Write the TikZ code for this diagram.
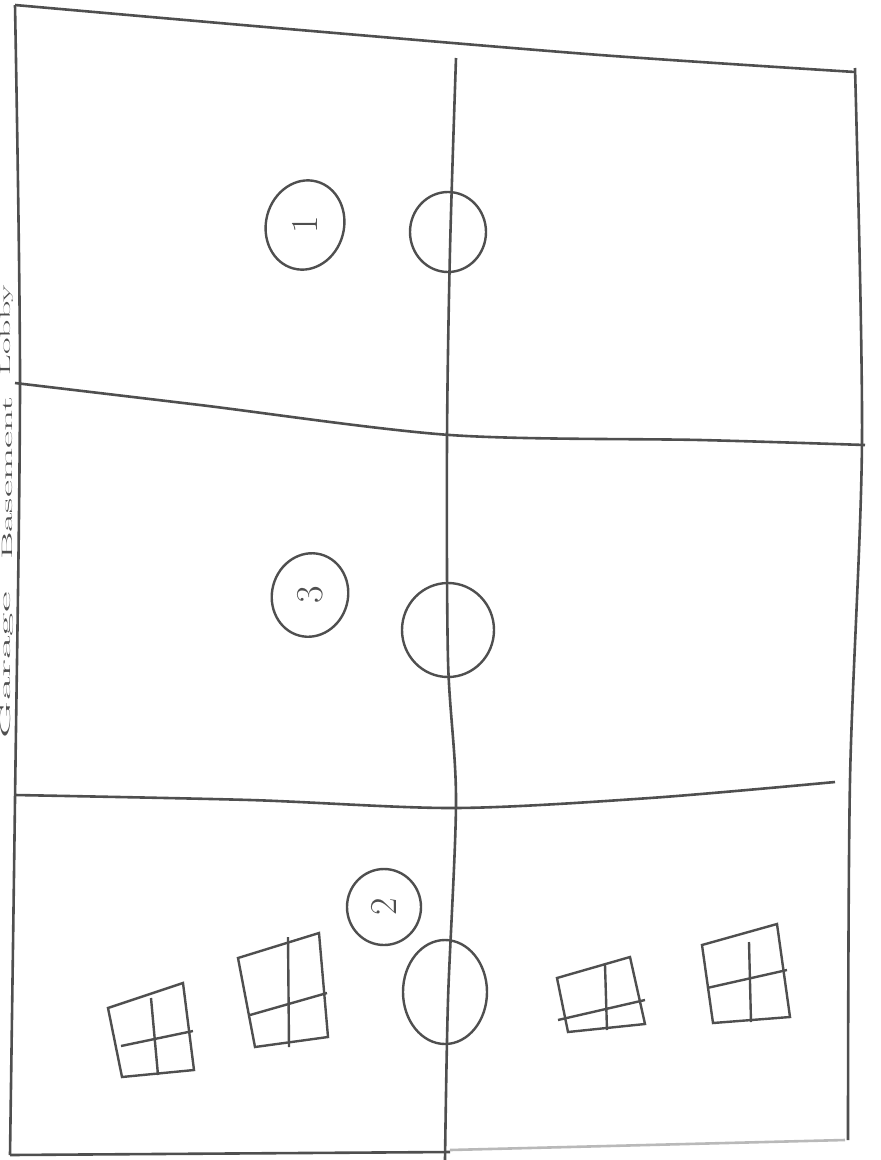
\documentclass[tikz,border=0pt]{standalone}
\usepackage{graphicx}
\usetikzlibrary{shapes.geometric}
\definecolor{pencil}{HTML}{4F4F4F}
\tikzset{
  line cap=round,
  line join=round,
  wall/.style={draw=pencil, line width=2.6pt},
  numring/.style={draw=pencil, line width=2.4pt, ellipse, inner sep=0pt},
  ring/.style={draw=pencil, line width=2.4pt, ellipse, inner sep=0pt},
  numtext/.style={rotate=90, text=pencil, font=\fontsize{38}{40}\selectfont},
  pane/.style={draw=pencil, line width=2.4pt},
  edgetext/.style={rotate=90, text=pencil, inner sep=0pt, font=\fontsize{15}{16}\selectfont}
}

\begin{document}
\begin{tikzpicture}[x=1pt,y=-1pt]
  \useasboundingbox (0,0) rectangle (881,1160);

  % outer frame
  \draw[wall] plot[smooth] coordinates {(15,5) (300,30) (600,55) (855,72)};
  \draw[wall] plot[smooth] coordinates {(15,5) (20,380) (15,800) (10,1155)};
  \draw[wall] plot[smooth] coordinates {(855,68) (862,440) (850,780) (848,1140)};
  \draw[wall] (10,1155) -- (450,1152);
  \draw[wall, draw=gray!55] (450,1150) -- (845,1140);

  % dividers
  \draw[wall] plot[smooth] coordinates {(456,58) (450,250) (447,440) (448,660) (456,800) (448,1000) (445,1160)};
  \draw[wall] plot[smooth] coordinates {(15,383) (200,405) (450,435) (700,440) (865,445)};
  \draw[wall] plot[smooth] coordinates {(15,795) (250,800) (455,808) (650,798) (835,782)};

  % labels on the left edge
  \node[edgetext] (lobby) at (7,330) {\scalebox{2.4}[1]{Lobby}};
  \node[edgetext] (basement) at (7,478) {\scalebox{2.8}[1]{Basement}};
  \node[edgetext] (garage) at (7,665) {\scalebox{3.4}[1]{Garage}};

  % top room
  \node[numring, minimum width=78, minimum height=90, rotate=-15] (num1) at (305,225) {};
  \node[numtext] at (num1) {1};
  \node[ring, minimum width=76, minimum height=80] (ring1) at (448,232) {};

  % middle room
  \node[numring, minimum width=76, minimum height=84, rotate=-15] (num3) at (310,595) {};
  \node[numtext] at (num3) {3};
  \node[ring, minimum width=92, minimum height=94] (ring3) at (448,630) {};

  % bottom room
  \node[numring, minimum width=74, minimum height=76] (num2) at (384,907) {};
  \node[numtext] at (num2) {2};
  \node[ring, minimum width=84, minimum height=104] (ring2) at (445,992) {};

  % windows
  \draw[pane] (108,1008) -- (183,983) -- (194,1070) -- (122,1077) -- cycle;
  \draw[pane] (151,998) -- (158,1075);
  \draw[pane] (121,1046) -- (193,1031);

  \draw[pane] (238,958) -- (319,933) -- (328,1037) -- (255,1047) -- cycle;
  \draw[pane] (288,937) -- (289,1047);
  \draw[pane] (250,1015) -- (327,993);

  \draw[pane] (557,978) -- (630,957) -- (645,1024) -- (568,1032) -- cycle;
  \draw[pane] (605,965) -- (607,1030);
  \draw[pane] (558,1020) -- (645,1000);

  \draw[pane] (702,945) -- (777,924) -- (790,1017) -- (713,1023) -- cycle;
  \draw[pane] (749,942) -- (751,1022);
  \draw[pane] (707,988) -- (787,970);
\end{tikzpicture}
\end{document}
